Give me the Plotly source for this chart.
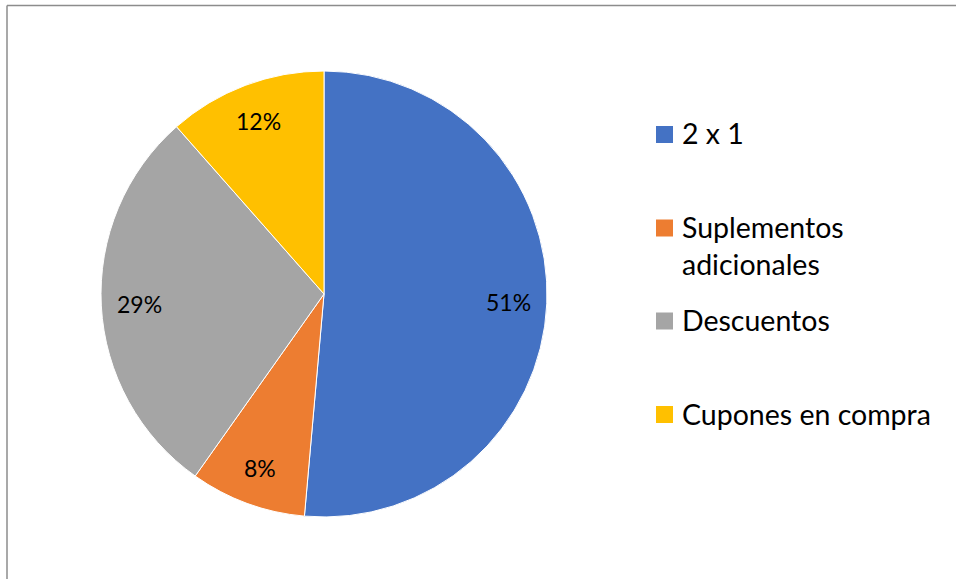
import math
import plotly.graph_objects as go

# Promotion preference shares (percent)
labels = ["2 x 1", "Suplementos adicionales", "Descuentos", "Cupones en compra"]
values = [51.4, 8.4, 28.7, 11.5]
colors = ["#4472C4", "#ED7D31", "#A5A5A5", "#FFC000"]

W, H = 956, 579
FONT = "Lato"


def px_x(p):
    return p / W


def px_y(p):
    return 1 - p / H


# pie centre and radius in pixels
cx, cy, r = 324, 294, 223

fig = go.Figure(
    go.Pie(
        labels=labels,
        values=values,
        sort=False,
        direction="clockwise",
        rotation=0,
        marker=dict(colors=colors, line=dict(color="white", width=1)),
        textinfo="none",
        showlegend=False,
        hoverinfo="label+percent",
        domain=dict(x=[px_x(cx - r), px_x(cx + r)], y=[px_y(cy + r), px_y(cy - r)]),
    )
)

annotations = []
shapes = []

# percentage labels placed at each slice's mid-angle, near the rim
total = sum(values)
cum = 0
label_r = 0.83 * r
for v in values:
    mid = (cum + v / 2) / total * 2 * math.pi
    cum += v
    lx = cx + label_r * math.sin(mid)
    ly = cy - label_r * math.cos(mid)
    annotations.append(dict(
        xref="paper", yref="paper", x=px_x(lx), y=px_y(ly),
        xanchor="center", yanchor="middle", showarrow=False,
        text=f"{v / total * 100:.0f}%",
        font=dict(family=FONT, size=23, color="#000000"),
    ))

# legend drawn as swatches and text
legend_rows = [134.5, 228, 321, 414.5]
for lab, col, yc in zip(labels, colors, legend_rows):
    shapes.append(dict(
        type="rect", xref="paper", yref="paper",
        x0=px_x(656), x1=px_x(673), y0=px_y(yc + 8.5), y1=px_y(yc - 8.5),
        fillcolor=col, line=dict(width=0),
    ))
    text = lab.replace("Suplementos ", "Suplementos<br>")
    annotations.append(dict(
        xref="paper", yref="paper", x=px_x(680), y=px_y(yc - 20),
        xanchor="left", yanchor="top", align="left", showarrow=False,
        text=text, font=dict(family=FONT, size=28.5, color="#000000"),
    ))

# chart-area frame
shapes.append(dict(type="line", xref="paper", yref="paper",
                   x0=px_x(7), x1=1, y0=px_y(5.5), y1=px_y(5.5),
                   line=dict(color="#8C8C8C", width=1.5)))
shapes.append(dict(type="line", xref="paper", yref="paper",
                   x0=px_x(7), x1=px_x(7), y0=px_y(5.5), y1=0,
                   line=dict(color="#8C8C8C", width=1.5)))

fig.update_layout(
    width=W, height=H,
    margin=dict(l=0, r=0, t=0, b=0),
    paper_bgcolor="white", plot_bgcolor="white",
    shapes=shapes, annotations=annotations,
    font=dict(family=FONT),
)

fig.write_html("out.html")
